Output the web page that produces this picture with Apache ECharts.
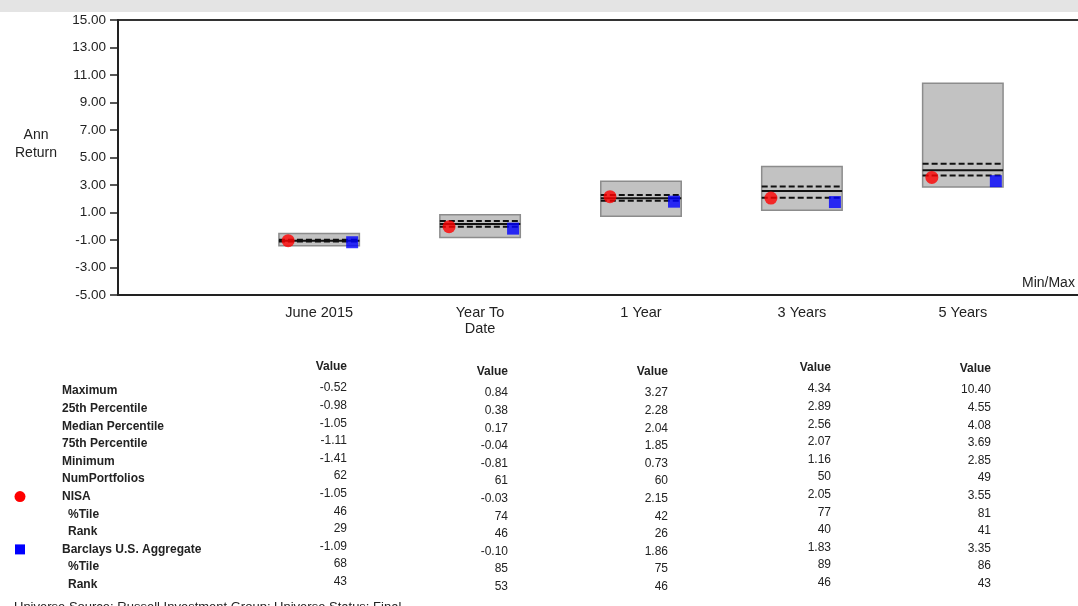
<!DOCTYPE html>
<html>
<head>
<meta charset="utf-8">
<script src="https://cdn.jsdelivr.net/npm/echarts@6/dist/echarts.min.js"></script>
<style>
html, body { margin: 0; padding: 0; background: #fff; }
#chart { width: 1078px; height: 606px; }
</style>
</head>
<body>
<div id="chart"></div>
<script>
// 区间
const periods = ['June 2015', 'Year To\nDate', '1 Year', '3 Years', '5 Years'];

// 分布统计
const maximum = [-0.52, 0.84, 3.27, 4.34, 10.40];
const pct25 = [-0.98, 0.38, 2.28, 2.89, 4.55];
const median = [-1.05, 0.17, 2.04, 2.56, 4.08];
const pct75 = [-1.11, -0.04, 1.85, 2.07, 3.69];
const minimum = [-1.41, -0.81, 0.73, 1.16, 2.85];
const numPortfolios = [62, 61, 60, 50, 49];

// 组合与基准
const nisa = [-1.05, -0.03, 2.15, 2.05, 3.55];
const nisaTile = [46, 74, 42, 77, 81];
const nisaRank = [29, 46, 26, 40, 41];
const barclays = [-1.09, -0.10, 1.86, 1.83, 3.35];
const barclaysTile = [68, 85, 75, 89, 86];
const barclaysRank = [43, 53, 46, 46, 43];

// y轴刻度
const yMin = -5;
const yMax = 15;
const yStep = 2;

const font = '"Liberation Sans", Arial, sans-serif';

// x轴: 每个区间占两个槽位, 左边留空
const slots = new Array(13).fill('');
periods.forEach((p, i) => { slots[2 + 2 * i] = p; });
const slotOf = i => 2 + 2 * i;

// 盒子: 最小值到最大值, 25/中位/75 线
const renderBox = (params, api) => {
  const x = api.value(0);
  const top = api.coord([x, api.value(5)]);
  const bot = api.coord([x, api.value(1)]);
  const w = api.size([1, 0])[0];
  const left = top[0] - w / 2;
  const line = (v, dashed) => {
    const y = api.coord([x, v])[1];
    return {
      type: 'line',
      shape: { x1: left, y1: y, x2: left + w, y2: y },
      style: { stroke: '#111', lineWidth: 2, lineDash: dashed ? [6, 3] : null }
    };
  };
  return {
    type: 'group',
    children: [
      {
        type: 'rect',
        shape: { x: left, y: top[1], width: w, height: bot[1] - top[1] },
        style: { fill: '#c2c2c2', stroke: '#8c8c8c', lineWidth: 1.5 }
      },
      line(api.value(4), true),
      line(api.value(3), false),
      line(api.value(2), true)
    ]
  };
};

// 表格
const colRight = [347, 508, 668, 831, 991];
const colShift = [-3, 2, 2, -2, -1];
const rowTop = 391;
const rowStep = 17.6;
const rows = [
  { label: 'Maximum', values: maximum, fmt: 2, indent: 0 },
  { label: '25th Percentile', values: pct25, fmt: 2, indent: 0 },
  { label: 'Median Percentile', values: median, fmt: 2, indent: 0 },
  { label: '75th Percentile', values: pct75, fmt: 2, indent: 0 },
  { label: 'Minimum', values: minimum, fmt: 2, indent: 0 },
  { label: 'NumPortfolios', values: numPortfolios, fmt: 0, indent: 0 },
  { label: 'NISA', values: nisa, fmt: 2, indent: 0 },
  { label: '%Tile', values: nisaTile, fmt: 0, indent: 6 },
  { label: 'Rank', values: nisaRank, fmt: 0, indent: 6 },
  { label: 'Barclays U.S. Aggregate', values: barclays, fmt: 2, indent: 0 },
  { label: '%Tile', values: barclaysTile, fmt: 0, indent: 6 },
  { label: 'Rank', values: barclaysRank, fmt: 0, indent: 6 }
];

const graphics = [
  { type: 'rect', left: 0, top: 0, shape: { width: 1078, height: 12 }, style: { fill: '#e4e4e4' } },
  {
    type: 'text',
    style: { text: 'Ann\nReturn', x: 36, y: 144, font: '14px ' + font, fill: '#222', align: 'center', verticalAlign: 'middle', lineHeight: 18 }
  },
  { type: 'text', style: { text: 'Min/Max', x: 1022, y: 283, font: '14px ' + font, fill: '#222', verticalAlign: 'middle' } },
  { type: 'text', style: { text: 'Universe Source: Russell Investment Group; Universe Status: Final', x: 14, y: 601, font: '13px ' + font, fill: '#222', verticalAlign: 'top' } },
  { type: 'circle', shape: { cx: 20, cy: rowTop + 6 * rowStep, r: 5.5 }, style: { fill: '#ff0000' } },
  { type: 'rect', shape: { x: 15, y: rowTop + 9 * rowStep - 5, width: 10, height: 10 }, style: { fill: '#0000ff' } }
];

periods.forEach((p, c) => {
  graphics.push({
    type: 'text',
    style: { text: 'Value', x: colRight[c], y: 370 + colShift[c], font: 'bold 12px ' + font, fill: '#222', align: 'right', verticalAlign: 'middle' }
  });
});

rows.forEach((r, i) => {
  const y = rowTop + i * rowStep;
  graphics.push({
    type: 'text',
    style: { text: r.label, x: 62 + r.indent, y: y, font: 'bold 12px ' + font, fill: '#222', verticalAlign: 'middle' }
  });
  r.values.forEach((v, c) => {
    graphics.push({
      type: 'text',
      style: { text: v.toFixed(r.fmt), x: colRight[c], y: y + colShift[c], font: '12px ' + font, fill: '#222', align: 'right', verticalAlign: 'middle' }
    });
  });
});

const chart = echarts.init(document.getElementById('chart'));

const option = {
  animation: false,
  backgroundColor: '#fff',
  grid: {
    left: 118,
    top: 20,
    width: 1046,
    height: 275,
    outerBoundsMode: 'none',
    containLabel: false,
    show: true,
    borderColor: '#333',
    borderWidth: 2
  },
  xAxis: {
    type: 'category',
    data: slots,
    boundaryGap: true,
    axisLine: { onZero: false, lineStyle: { color: '#222', width: 2 } },
    axisTick: {
      alignWithLabel: true,
      length: 6,
      interval: (idx) => slots[idx] !== '',
      lineStyle: { color: '#222', width: 1.5 }
    },
    axisLabel: {
      interval: 0,
      color: '#222',
      fontFamily: font,
      fontSize: 14.5,
      lineHeight: 16,
      margin: 10
    },
    splitLine: { show: false }
  },
  yAxis: {
    type: 'value',
    min: yMin,
    max: yMax,
    interval: yStep,
    axisLine: { show: true, lineStyle: { color: '#222', width: 2 } },
    axisTick: { show: true, length: 8, lineStyle: { color: '#222', width: 1.5 } },
    axisLabel: {
      color: '#222',
      fontFamily: font,
      fontSize: 13.5,
      margin: 12,
      formatter: v => v.toFixed(2)
    },
    splitLine: { show: false }
  },
  series: [
    {
      type: 'custom',
      renderItem: renderBox,
      encode: { x: 0, y: [1, 5] },
      data: periods.map((p, i) => [slotOf(i), minimum[i], pct75[i], median[i], pct25[i], maximum[i]]),
      z: 2
    },
    {
      name: 'NISA',
      type: 'scatter',
      symbol: 'circle',
      symbolSize: 13,
      symbolOffset: [-31, 0],
      itemStyle: { color: '#ff0000' },
      data: nisa.map((v, i) => [slotOf(i), v]),
      z: 4
    },
    {
      name: 'Barclays U.S. Aggregate',
      type: 'scatter',
      symbol: 'rect',
      symbolSize: 12,
      symbolOffset: [33, 1],
      itemStyle: { color: '#0000ff' },
      data: barclays.map((v, i) => [slotOf(i), v]),
      z: 4
    }
  ],
  graphic: graphics
};

chart.setOption(option);
</script>
</body>
</html>
